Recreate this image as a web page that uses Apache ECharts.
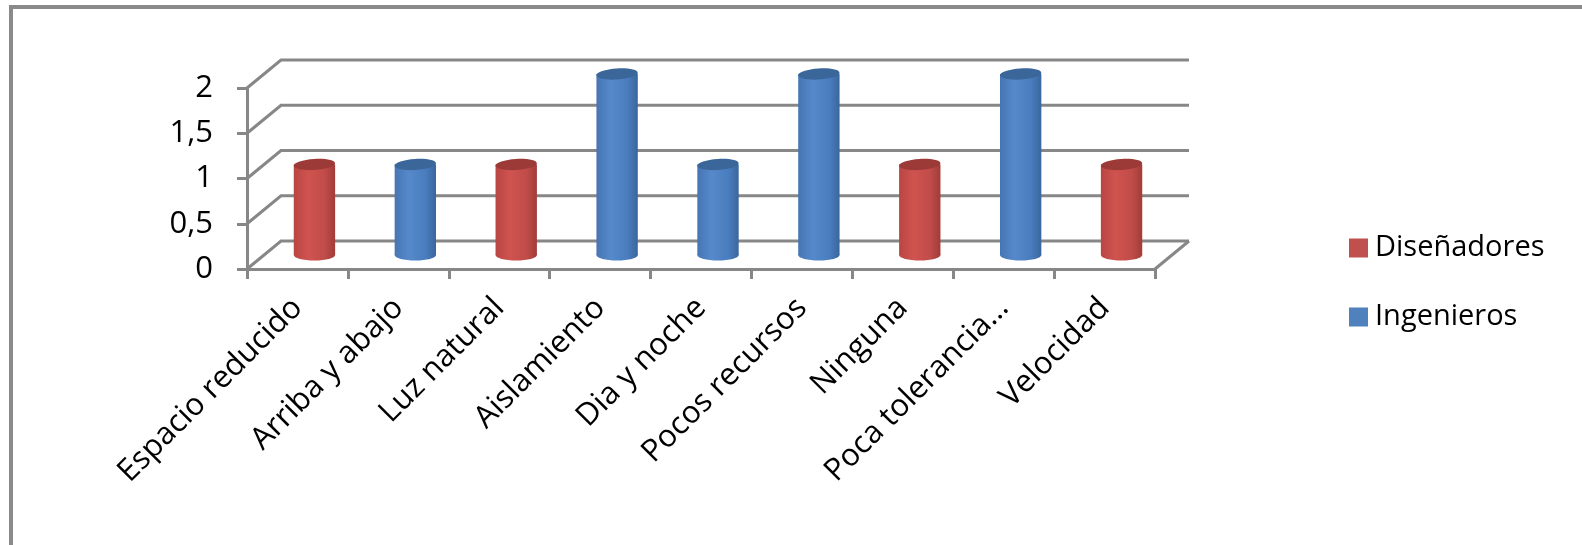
<!DOCTYPE html>
<html>
<head>
<meta charset="utf-8">
<script src="https://cdn.jsdelivr.net/npm/echarts@6/dist/echarts.min.js"></script>
<style>
  html, body { margin: 0; padding: 0; background: #fff; }
  #wrap { position: relative; width: 1582px; height: 545px; overflow: hidden; }
  #frame { position: absolute; left: 9px; top: 5px; width: 1600px; height: 600px;
           border-left: 4px solid #8a8a8a; border-top: 4px solid #8a8a8a; }
  #chart { position: absolute; left: 0; top: 0; width: 1582px; height: 545px; }
</style>
</head>
<body>
<div id="wrap">
  <div id="frame"></div>
  <div id="chart"></div>
</div>
<script>
// Categories and values per group
const categories = [
  'Espacio reducido', 'Arriba y abajo', 'Luz natural', 'Aislamiento',
  'Dia y noche', 'Pocos recursos', 'Ninguna', 'Poca tolerancia…', 'Velocidad'
];
const disenadores = [1, 0, 1, 0, 0, 0, 1, 0, 1];
const ingenieros  = [0, 1, 0, 2, 1, 2, 0, 2, 0];
const yTicks = [0, 0.5, 1, 1.5, 2];

// Depth offset of the back wall (pseudo 3D)
const DX = 34, DY = -28;
const GRID_COLOR = '#878787';
const FONT = '"Open Sans", "Noto Sans", sans-serif';

const palette = {
  red:  { edgeL: '#b84643', hi: '#d0534f', mid: '#c04c49', edgeR: '#a13c39', top: '#9c3a37', legend: '#c0504d' },
  blue: { edgeL: '#4675b3', hi: '#5689cb', mid: '#4a7dbd', edgeR: '#3a669e', top: '#3a6699', legend: '#4f81bd' }
};

function grad(c) {
  return {
    type: 'linear', x: 0, y: 0, x2: 1, y2: 0,
    colorStops: [
      { offset: 0, color: c.edgeL },
      { offset: 0.35, color: c.hi },
      { offset: 0.75, color: c.mid },
      { offset: 1, color: c.edgeR }
    ]
  };
}

function cylinderRenderer(c) {
  return function (params, api) {
    const idx = params.dataIndex;
    const v = api.value(1);
    const base = api.value(2);
    if (!v) return null;
    const p0 = api.coord([idx, base]);
    const p1 = api.coord([idx, base + v]);
    const catW = api.size([1, 0])[0];
    const w = catW * 0.41;
    const rx = w / 2, ry = 5.5;
    const cx = p0[0] + DX / 2;
    const yb = p0[1] + DY / 2;
    const yt = p1[1] + DY / 2;
    return {
      type: 'group',
      children: [
        { type: 'ellipse', shape: { cx: cx, cy: yb, rx: rx, ry: ry }, style: { fill: grad(c) } },
        { type: 'rect', shape: { x: cx - rx, y: yt, width: w, height: yb - yt }, style: { fill: grad(c) } },
        { type: 'ellipse', shape: { cx: cx, cy: yt, rx: rx, ry: ry }, rotation: 0.06, originX: cx, originY: yt,
          style: { fill: c.top } }
      ]
    };
  };
}

function wallRenderer(params, api) {
  const v = api.value(1);
  const catW = api.size([1, 0])[0];
  const first = api.coord([0, v]);
  const last = api.coord([categories.length - 1, v]);
  const x0 = first[0] - catW / 2;
  const x1 = last[0] + catW / 2;
  const y = first[1];
  const ls = { stroke: GRID_COLOR, lineWidth: 3, fill: null };
  const children = [
    { type: 'polyline', shape: { points: [[x0, y], [x0 + DX, y + DY], [x1 + DX, y + DY]] }, style: ls }
  ];
  if (v === 0) {
    children.push({ type: 'line', shape: { x1: x1, y1: y, x2: x1 + DX, y2: y + DY }, style: ls });
  }
  return { type: 'group', children: children };
}

const stackD = disenadores.map((v, i) => [i, v, 0]);
const stackI = ingenieros.map((v, i) => [i, v, disenadores[i]]);

const chart = echarts.init(document.getElementById('chart'), null, { renderer: 'canvas' });
chart.setOption({
  animation: false,
  backgroundColor: 'transparent',
  grid: { left: 247, top: 88, right: 427, bottom: 276, containLabel: false },
  xAxis: {
    type: 'category',
    data: categories,
    boundaryGap: true,
    axisLine: { lineStyle: { color: GRID_COLOR, width: 3 } },
    axisTick: { show: true, length: 10, lineStyle: { color: GRID_COLOR, width: 3 } },
    axisLabel: { rotate: 45, interval: 0, margin: 34, color: '#000', fontFamily: FONT, fontSize: 31 },
    splitLine: { show: false }
  },
  yAxis: {
    type: 'value',
    min: 0, max: 2, interval: 0.5,
    axisLine: { show: true, lineStyle: { color: GRID_COLOR, width: 3 } },
    axisTick: { show: true, length: 10, lineStyle: { color: GRID_COLOR, width: 3 } },
    axisLabel: {
      margin: 34, color: '#000', fontFamily: FONT, fontSize: 31,
      formatter: v => String(v).replace('.', ',')
    },
    splitLine: { show: false }
  },
  legend: {
    orient: 'vertical',
    left: 1344, top: 226,
    itemWidth: 19, itemHeight: 19, itemGap: 35,
    icon: 'rect',
    textStyle: { color: '#000', fontFamily: FONT, fontSize: 29, lineHeight: 34, padding: [0, 0, 0, 2] },
    data: ['Diseñadores', 'Ingenieros']
  },
  series: [
    {
      name: 'walls', type: 'custom', z: 1, silent: true,
      data: yTicks.map(v => [0, v]),
      renderItem: wallRenderer
    },
    {
      name: 'Diseñadores', type: 'custom', z: 3,
      itemStyle: { color: palette.red.legend },
      encode: { x: 0, y: 1 },
      data: stackD,
      renderItem: cylinderRenderer(palette.red)
    },
    {
      name: 'Ingenieros', type: 'custom', z: 3,
      itemStyle: { color: palette.blue.legend },
      encode: { x: 0, y: 1 },
      data: stackI,
      renderItem: cylinderRenderer(palette.blue)
    }
  ]
});
</script>
</body>
</html>
